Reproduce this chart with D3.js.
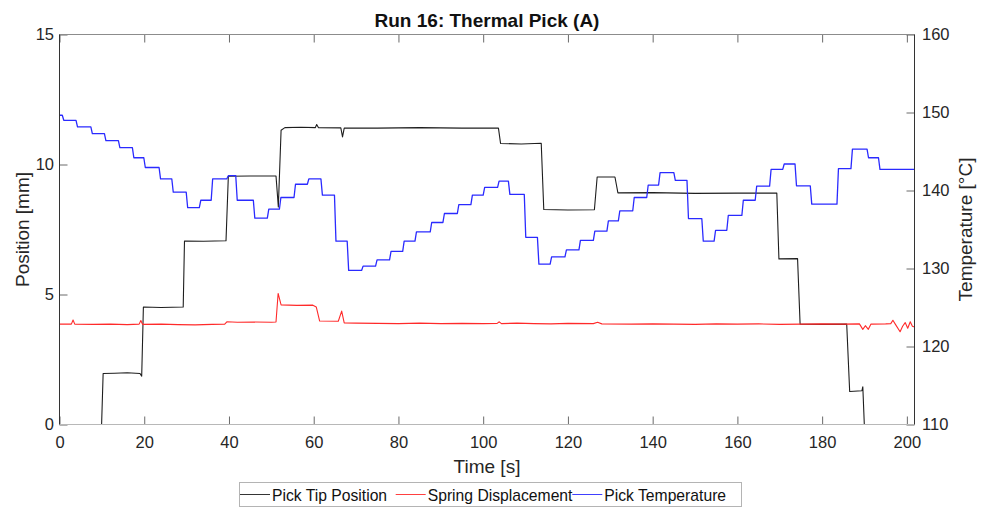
<!DOCTYPE html>
<html>
<head>
<meta charset="utf-8">
<script src="https://cdn.jsdelivr.net/npm/d3@7"></script>
<style>
  html, body { margin: 0; padding: 0; background: #fff; }
  svg { display: block; font-family: "Liberation Sans", Arial, sans-serif; }
</style>
</head>
<body>
<svg id="chart" width="981" height="510"></svg>
<script>
// ---- Data ----------------------------------------------------------------
// Pick tip position [mm] (left axis), vertices of the recorded trace
const posT = [9.75, 10.3, 13, 16, 19.0, 19.4, 19.8, 24, 29.2, 29.5, 34, 39.3, 39.85, 45, 51.1, 51.65, 52.3, 53.2, 57, 60.4, 60.7, 61.1, 66.4, 66.8, 67.2, 75, 85, 95, 103.6, 104.1, 109, 113.7, 114.3, 120, 126.25, 126.9, 131.1, 131.8, 140, 150, 160, 169.3, 169.8, 174.2, 174.8, 180, 185.8, 186.5, 189.4, 189.6, 190.2];
const posV = [-1, 1.96, 1.97, 1.99, 1.96, 1.86, 4.52, 4.50, 4.52, 7.06, 7.05, 7.07, 9.55, 9.56, 9.56, 8.37, 11.32, 11.42, 11.43, 11.42, 11.54, 11.42, 11.41, 11.06, 11.40, 11.40, 11.42, 11.40, 11.40, 10.81, 10.79, 10.82, 8.27, 8.25, 8.26, 9.52, 9.52, 8.91, 8.92, 8.89, 8.90, 8.90, 6.37, 6.38, 3.86, 3.85, 3.86, 1.27, 1.30, 1.45, -1];

// Spring displacement [mm] (left axis)
const springT = [0, 2.8, 3.2, 3.6, 8, 12, 16, 18.8, 19.2, 19.6, 24, 28, 32, 36, 39, 39.5, 42, 46, 50, 51.1, 51.6, 52.3, 56, 59.8, 60.6, 61.4, 65.8, 66.6, 67.2, 70, 75, 80, 85, 90, 95, 100, 103.3, 103.8, 104.3, 108, 112, 116, 120, 126, 127, 128, 135, 140, 145, 150, 155, 160, 165, 170, 175, 180, 185, 188.8, 189.6, 190.2, 190.9, 191.5, 195, 196.2, 196.7, 197.3, 198.4, 199, 199.6, 200.2, 200.8, 201.3, 201.8];
const springV = [3.86, 3.86, 4.02, 3.86, 3.85, 3.86, 3.84, 3.86, 4.00, 3.85, 3.86, 3.84, 3.83, 3.85, 3.86, 3.95, 3.93, 3.94, 3.93, 3.94, 5.04, 4.60, 4.58, 4.59, 4.52, 3.98, 3.97, 4.36, 3.91, 3.90, 3.89, 3.88, 3.90, 3.88, 3.89, 3.88, 3.89, 3.95, 3.88, 3.90, 3.88, 3.87, 3.89, 3.88, 3.93, 3.87, 3.86, 3.87, 3.86, 3.85, 3.87, 3.86, 3.87, 3.85, 3.86, 3.87, 3.86, 3.87, 3.66, 3.80, 3.66, 3.86, 3.87, 3.88, 4.01, 3.85, 3.57, 3.78, 3.92, 3.70, 3.95, 3.78, 3.75];

// Pick temperature [°C] (right axis): times at which the set level changes, and the level from then on
const tempT = [0, 0.66, 3.9, 7.4, 10.6, 13.9, 17.2, 19.9, 23.5, 26.5, 29.9, 33.0, 35.8, 39.5, 41.6, 45.75, 49.05, 51.9, 55.35, 58.5, 61.7, 64.9, 67.9, 71.3, 74.6, 77.9, 81.0, 83.9, 87.5, 90.5, 93.9, 97.1, 100.0, 103.4, 105.95, 109.7, 112.8, 115.8, 119.3, 122.6, 126.0, 129.2, 131.9, 135.3, 138.6, 141.4, 145.0, 148.1, 151.6, 154.5, 157.5, 161.05, 164.2, 167.6, 170.7, 173.6, 177.2, 183.5, 186.8, 190.6, 193.3];
const tempV = [149.65, 149.0, 148.15, 147.3, 146.4, 145.5, 144.2, 142.95, 141.5, 139.8, 137.8, 138.75, 141.5, 141.9, 138.75, 136.45, 137.6, 139.1, 140.8, 141.5, 139.4, 133.5, 129.75, 130.3, 131.1, 132.2, 133.5, 134.7, 135.9, 137.05, 138.2, 139.4, 140.4, 141.2, 139.5, 134.0, 130.55, 131.5, 132.4, 133.6, 134.8, 136.1, 137.4, 139.1, 140.7, 142.3, 141.3, 136.4, 133.5, 134.9, 136.8, 138.75, 140.55, 142.7, 143.4, 140.6, 138.25, 142.8, 145.3, 144.2, 142.7];
const timeEnd = 201.8;

const xTicks = [0, 20, 40, 60, 80, 100, 120, 140, 160, 180, 200];
const posTicks = [0, 5, 10, 15];
const tempTicks = [110, 120, 130, 140, 150, 160];

const seriesNames = ["Pick Tip Position", "Spring Displacement", "Pick Temperature"];
const seriesColors = ["#1e1e1e", "#ff2a2a", "#2a2aff"];

// ---- Layout ----------------------------------------------------------------
const L = 59.5, R = 914.5, T = 34.5, B = 424.5;
const svg = d3.select("#chart");

const x = d3.scaleLinear().domain([0, timeEnd]).range([L, R]);
const yPos = d3.scaleLinear().domain([0, 15]).range([B, T]);
const yTemp = d3.scaleLinear().domain([110, 160]).range([B, T]);

svg.append("defs").append("clipPath").attr("id", "plotClip")
  .append("rect").attr("x", L).attr("y", T).attr("width", R - L).attr("height", B - T);

// ---- Series ----------------------------------------------------------------
const plot = svg.append("g").attr("clip-path", "url(#plotClip)");

const posPts = posT.map((t, i) => [t, posV[i]]);
const springPts = springT.map((t, i) => [t, springV[i]]);

// temperature steps drawn with a short ramp at every level change
const ramp = 0.35;
const tempPts = [];
tempT.forEach((t, i) => {
  if (i === 0) { tempPts.push([t, tempV[0]]); return; }
  tempPts.push([t, tempV[i - 1]]);
  tempPts.push([t + ramp, tempV[i]]);
});
tempPts.push([timeEnd, tempV[tempV.length - 1]]);

const lineL = d3.line().x(d => x(d[0])).y(d => yPos(d[1]));
const lineR = d3.line().x(d => x(d[0])).y(d => yTemp(d[1]));

plot.append("path").attr("d", lineL(posPts))
  .attr("fill", "none").attr("stroke", seriesColors[0]).attr("stroke-width", 1.1).attr("stroke-linejoin", "round");
plot.append("path").attr("d", lineL(springPts))
  .attr("fill", "none").attr("stroke", seriesColors[1]).attr("stroke-width", 1.1).attr("stroke-linejoin", "round");
plot.append("path").attr("d", lineR(tempPts))
  .attr("fill", "none").attr("stroke", seriesColors[2]).attr("stroke-width", 1.3).attr("stroke-linejoin", "round");

// ---- Axes ------------------------------------------------------------------
const tickFont = "16.5px";
const styleAxis = g => {
  g.select(".domain").remove();
  g.selectAll(".tick line").attr("stroke", "#6a6a6a");
  g.selectAll(".tick text").attr("fill", "#262626").style("font-size", tickFont)
    .style("font-family", "'Liberation Sans', Arial, sans-serif");
};

svg.append("g").attr("transform", `translate(0,${B})`)
  .call(d3.axisBottom(x).tickValues(xTicks).tickSizeInner(-8).tickSizeOuter(0).tickPadding(12))
  .call(styleAxis);
svg.append("g").attr("transform", `translate(0,${T})`)
  .call(d3.axisTop(x).tickValues(xTicks).tickSizeInner(-8).tickSizeOuter(0).tickFormat(""))
  .call(styleAxis);
svg.append("g").attr("transform", `translate(${L},0)`)
  .call(d3.axisLeft(yPos).tickValues(posTicks).tickSizeInner(-8).tickSizeOuter(0).tickPadding(5.5))
  .call(styleAxis);
svg.append("g").attr("transform", `translate(${R},0)`)
  .call(d3.axisRight(yTemp).tickValues(tempTicks).tickSizeInner(-8).tickSizeOuter(0).tickPadding(7.5))
  .call(styleAxis);

// box
svg.append("line").attr("x1", L).attr("x2", R).attr("y1", T).attr("y2", T).attr("stroke", "#8c8c8c");
svg.append("line").attr("x1", L).attr("x2", R).attr("y1", B).attr("y2", B).attr("stroke", "#b8b8b8");
svg.append("line").attr("x1", L).attr("x2", L).attr("y1", T).attr("y2", B).attr("stroke", "#333");
svg.append("line").attr("x1", R).attr("x2", R).attr("y1", T).attr("y2", B).attr("stroke", "#333");

// ---- Titles ----------------------------------------------------------------
svg.append("text").attr("x", (L + R) / 2).attr("y", 27).attr("text-anchor", "middle")
  .style("font-size", "19px").style("font-weight", "bold").attr("fill", "#111")
  .text("Run 16: Thermal Pick (A)");
svg.append("text").attr("x", (L + R) / 2).attr("y", 472.5).attr("text-anchor", "middle")
  .style("font-size", "19px").attr("fill", "#262626").text("Time [s]");
svg.append("text").attr("transform", `translate(29,${(T + B) / 2}) rotate(-90)`).attr("text-anchor", "middle")
  .style("font-size", "19px").attr("fill", "#262626").text("Position [mm]");
svg.append("text").attr("transform", `translate(972,${(T + B) / 2}) rotate(-90)`).attr("text-anchor", "middle")
  .style("font-size", "19px").attr("fill", "#262626").text("Temperature [°C]");

// ---- Legend ----------------------------------------------------------------
const legend = svg.append("g");
legend.append("rect").attr("x", 239.5).attr("y", 482.5).attr("width", 502).attr("height", 24)
  .attr("fill", "#fff").attr("stroke", "#b4b4b4");
const legendX = [240, 395.7, 572.3];
seriesNames.forEach((name, i) => {
  const g = legend.append("g").attr("transform", `translate(${legendX[i]},0)`);
  g.append("line").attr("x1", 0).attr("x2", 30).attr("y1", 494.5).attr("y2", 494.5)
    .attr("stroke", seriesColors[i]).attr("stroke-width", 0.9);
  g.append("text").attr("x", 32).attr("y", 500.5).style("font-size", "15.7px").attr("fill", "#111").text(name);
});
</script>
</body>
</html>
